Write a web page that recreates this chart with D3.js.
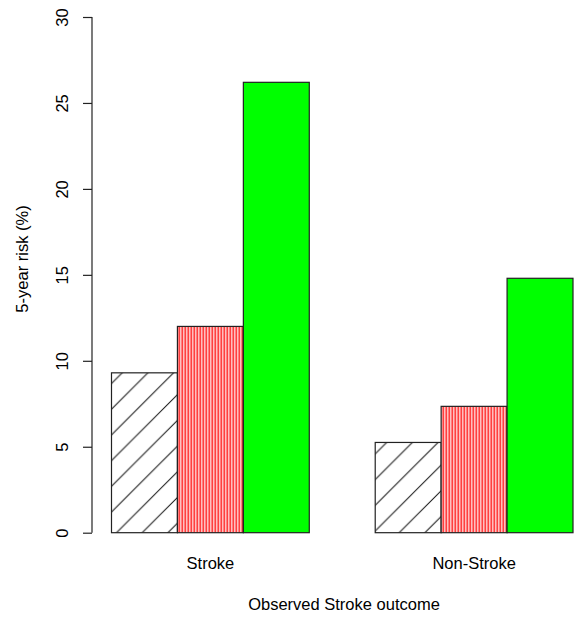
<!DOCTYPE html>
<html><head><meta charset="utf-8">
<script src="https://d3js.org/d3.v7.min.js"></script>
<style>body{margin:0;background:#fff}svg{display:block}</style>
</head><body>
<script>
const categories = ["Stroke", "Non-Stroke"];
const seriesNames = ["Model A", "Model B", "Model C"];
const values = [
  [9.3, 12.0, 26.2],
  [5.25, 7.35, 14.8]
];
const yTicks = [0, 5, 10, 15, 20, 25, 30];
const yLabel = "5-year risk (%)";
const xLabel = "Observed Stroke outcome";

const W = 574, H = 619;
const FS = 16.5;
const svg = d3.select("body").append("svg").attr("width", W).attr("height", H)
  .style("font-family", "'Liberation Sans', Arial, sans-serif");

const defs = svg.append("defs");
const hs = 25.7;
const p1 = defs.append("pattern").attr("id", "hatch").attr("patternUnits", "userSpaceOnUse")
  .attr("width", hs).attr("height", hs).attr("y", 532.7 - 12);
p1.append("rect").attr("width", hs).attr("height", hs).attr("fill", "#fff");
p1.append("path").attr("d", `M${-hs/2},${hs/2} L${hs/2},${-hs/2} M0,${hs} L${hs},0 M${hs/2},${hs*1.5} L${hs*1.5},${hs/2}`)
  .attr("stroke", "#111").attr("stroke-width", 1);
const p2 = defs.append("pattern").attr("id", "vlines").attr("patternUnits", "userSpaceOnUse")
  .attr("width", 3).attr("height", 10).attr("x", 177.5);
p2.append("rect").attr("width", 3).attr("height", 10).attr("fill", "#fff");
p2.append("rect").attr("x", 1).attr("width", 1.5).attr("height", 10).attr("fill", "#ff0000");
const fills = ["url(#hatch)", "url(#vlines)", "#00ff00"];

const y = d3.scaleLinear().domain([0, 30]).range([532.7, 17]);
const x = d3.scaleLinear().domain([0, 7]).range([111.5, 573]);

// bars
const groups = svg.selectAll("g.grp").data(values).enter().append("g");
groups.each(function(vals, gi) {
  d3.select(this).selectAll("rect").data(vals).enter().append("rect")
    .attr("x", (d, i) => x(gi * 4 + i))
    .attr("width", x(1) - x(0))
    .attr("y", d => y(d))
    .attr("height", d => y(0) - y(d))
    .attr("fill", (d, i) => fills[i])
    .attr("stroke", "#222").attr("stroke-width", 1.2);
});

// y axis
const axis = svg.append("g").attr("transform", "translate(92,0)")
  .call(d3.axisLeft(y).tickValues(yTicks).tickSize(9).tickPadding(0).tickFormat(d3.format("d")));
axis.select(".domain").attr("stroke", "#222").attr("stroke-width", 1.2).attr("d", `M0,${y(0)}V${y(30)}`);
axis.selectAll(".tick line").attr("stroke", "#222").attr("stroke-width", 1.2);
axis.attr("font-family", null).attr("font-size", null);
axis.selectAll(".tick text")
  .attr("font-size", FS).attr("fill", "#000").attr("text-anchor", "middle")
  .attr("transform", "translate(-30,0) rotate(-90)").attr("x", 0).attr("dy", "0.35em");

// category labels
svg.selectAll("text.cat").data(categories).enter().append("text")
  .attr("x", (d, i) => x(i * 4 + 1.5)).attr("y", 569)
  .attr("text-anchor", "middle").attr("font-size", FS).text(d => d);

svg.append("text").attr("x", 344).attr("y", 609.5).attr("text-anchor", "middle")
  .attr("font-size", FS).text(xLabel);
svg.append("text").attr("transform", `translate(28,259) rotate(-90)`)
  .attr("text-anchor", "middle").attr("font-size", FS).text(yLabel);
</script>
</body></html>
